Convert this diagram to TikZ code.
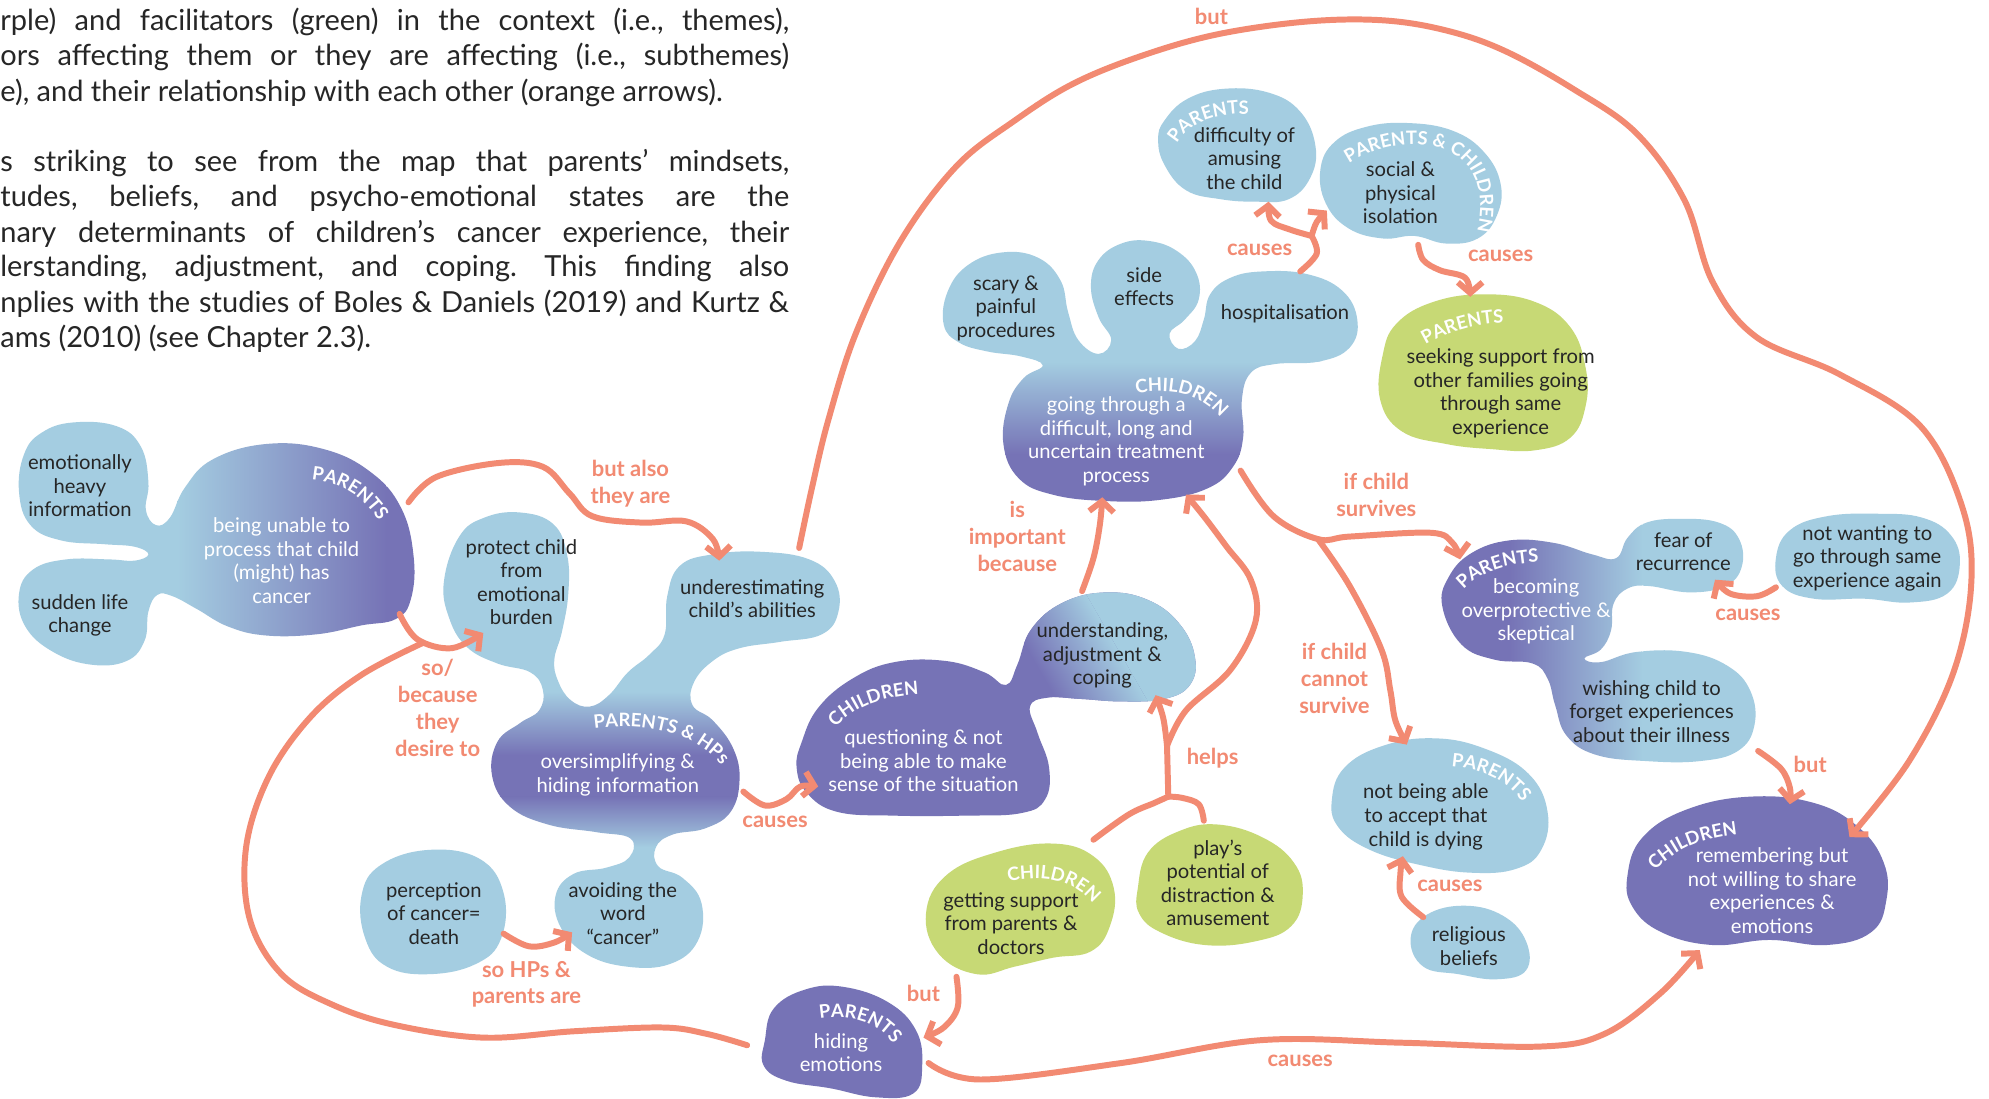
\documentclass[tikz,border=0pt]{standalone}
\usepackage{fontspec}
\setmainfont{Lato}
\usetikzlibrary{arrows.meta,decorations.text}
\definecolor{cblue}{HTML}{A4CDE1}
\definecolor{cpurple}{HTML}{7673B6}
\definecolor{cgreen}{HTML}{C7D975}
\definecolor{corange}{HTML}{F28A72}
\definecolor{ctext}{HTML}{262626}
\frenchspacing
\begin{document}
\begin{tikzpicture}[x=0.025369cm, y=-0.025369cm,
  txt/.style={align=center, inner sep=0pt, text=ctext, font=\fontsize{11.5}{13.4}\selectfont},
  wtxt/.style={txt, text=white},
  lab/.style={align=center, inner sep=0pt, text=corange, font=\bfseries\fontsize{12.5}{15.3}\selectfont},
  para/.style={anchor=base west, inner sep=0pt, text=ctext, font=\fontsize{16.5}{20}\selectfont},
  arr/.style={draw=corange, line width=3.4pt, line cap=round, line join=round, -{Straight Barb[length=6pt, width=14pt]}},
  link/.style={draw=corange, line width=3.4pt, line cap=round, line join=round},
  curved/.style={decorate, decoration={text along path, text align=center, text color=white, text={|\bfseries\fontsize{10.5}{12}\selectfont|#1}}},
]
\useasboundingbox (0,0) rectangle (1568,866);
\fill[white] (0,0) rectangle (1568,866);

% ---------- paragraph ----------
\node[para] (p1) at (0,24) {\makebox[15.78cm][s]{rple) and facilitators (green) in the context (i.e., themes),}};
\node[para] (p2) at (0,52) {\makebox[15.78cm][s]{ors affecting them or they are affecting (i.e., subthemes)}};
\node[para] (p3) at (0,80) {e), and their relationship with each other (orange arrows).};
\node[para] (p4) at (0,135) {\makebox[15.78cm][s]{s striking to see from the map that parents’ mindsets,}};
\node[para] (p5) at (0,163) {\makebox[15.78cm][s]{tudes, beliefs, and psycho-emotional states are the}};
\node[para] (p6) at (0,191) {\makebox[15.78cm][s]{nary determinants of children’s cancer experience, their}};
\node[para] (p7) at (0,218) {\makebox[15.78cm][s]{lerstanding, adjustment, and coping. This finding also}};
\node[para] (p8) at (0,246) {\makebox[15.78cm][s]{nplies with the studies of Boles \& Daniels (2019) and Kurtz \&}};
\node[para] (p9) at (0,274) {ams (2010) (see Chapter 2.3).};

% ---------- blobs ----------
% parents: being unable to process
\begin{scope}
\clip plot[smooth cycle, tension=.7] coordinates {
 (58,333) (92,336) (111,352) (117,380) (115,402) (123,414) (134,408) (146,384) (168,362) (210,350) (255,354) (292,372) (316,400) (326,438) (324,472) (312,488) (285,493) (250,500) (210,501) (180,494) (155,480) (136,470) (124,469) (117,482) (114,505) (100,521) (72,524) (42,514) (20,494) (15,468) (26,449) (52,441) (86,441) (106,442) (117,437) (106,431) (82,429) (48,426) (24,414) (15,388) (19,358) (33,341)};
\fill[cblue] (0,300) rectangle (140,540);
\shade[left color=cblue, right color=cpurple] (140,300) rectangle (305,540);
\fill[cpurple] (305,300) rectangle (340,540);
\end{scope}

% parents & HPs: oversimplifying
\begin{scope}
\clip plot[smooth cycle, tension=.7] coordinates {
 (362,423) (382,408) (410,404) (436,413) (447,437) (448,468) (443,498) (437,520) (440,537) (450,552) (465,557) (480,548) (495,530) (512,516) (524,500) (526,470) (536,446) (562,437) (600,435) (638,441) (658,458) (661,482) (648,500) (615,506) (583,511) (562,521) (547,538) (546,556) (562,568) (578,590) (583,615) (576,640) (556,653) (530,658) (517,668) (519,683) (538,692) (553,712) (550,742) (528,760) (494,762) (462,752) (442,731) (438,706) (452,689) (478,684) (496,676) (497,661) (470,656) (432,650) (402,636) (388,612) (392,585) (410,570) (425,560) (428,544) (418,530) (392,523) (368,510) (354,487) (350,458)};
\fill[cblue] (330,390) rectangle (680,545);
\shade[top color=cblue, bottom color=cpurple] (330,545) rectangle (680,595);
\fill[cpurple] (330,595) rectangle (680,628);
\shade[top color=cpurple, bottom color=cblue] (330,628) rectangle (680,668);
\fill[cblue] (330,668) rectangle (680,780);
\end{scope}

% perception of cancer
\fill[cblue] plot[smooth cycle, tension=.7] coordinates {
 (300,682) (338,670) (378,677) (397,704) (395,740) (375,760) (338,768) (305,762) (288,740) (285,706)};

% children: questioning
\begin{scope}
\clip plot[smooth cycle, tension=.7] coordinates {
 (632,585) (645,558) (672,535) (705,522) (745,521) (776,530) (793,540) (802,524) (813,496) (838,475) (872,467) (905,473) (930,492) (942,518) (938,540) (918,551) (885,553) (852,551) (826,550) (812,557) (818,578) (827,605) (824,630) (805,641) (760,643) (705,643) (660,640) (636,625) (628,605)};
\fill[cpurple] (600,440) rectangle (980,680);
\begin{scope}[transform canvas={rotate around={30:(860,515)}}]
\shade[left color=cpurple, right color=cblue] (818,330) rectangle (880,700);
\fill[cblue] (880,330) rectangle (1050,700);
\end{scope}
\end{scope}

% children: treatment process
\begin{scope}
\clip plot[smooth cycle, tension=.7] coordinates {
 (744,256) (747,230) (763,209) (790,199) (818,203) (836,221) (842,246) (850,268) (866,279) (876,268) (866,250) (860,226) (866,205) (884,192) (906,190) (928,198) (943,215) (945,236) (934,252) (922,263) (929,275) (942,269) (949,252) (954,232) (970,219) (995,214) (1030,216) (1058,229) (1070,252) (1064,274) (1040,285) (1005,287) (986,294) (979,315) (980,345) (972,368) (952,385) (915,394) (872,395) (830,390) (803,377) (791,350) (795,318) (807,298) (822,288) (805,281) (778,277) (756,270)};
\fill[cblue] (730,180) rectangle (1080,285);
\shade[top color=cblue, bottom color=cpurple] (730,285) rectangle (1080,358);
\fill[cpurple] (730,358) rectangle (1080,410);
\end{scope}

% parents: difficulty of amusing
\fill[cblue] plot[smooth cycle, tension=.7] coordinates {
 (918,95) (936,78) (965,70) (1000,73) (1025,88) (1037,115) (1033,140) (1016,157) (990,159) (962,157) (935,150) (918,130) (913,110)};

% parents & children: isolation
\fill[cblue] plot[smooth cycle, tension=.7] coordinates {
 (1041,133) (1052,112) (1077,100) (1110,97) (1145,103) (1170,120) (1183,145) (1180,170) (1165,188) (1140,192) (1115,186) (1090,188) (1063,180) (1045,160)};

% parents: seeking support
\fill[cgreen] plot[smooth cycle, tension=.7] coordinates {
 (1090,280) (1101,255) (1130,238) (1170,232) (1210,238) (1238,258) (1250,290) (1250,320) (1238,345) (1210,355) (1175,354) (1140,350) (1105,340) (1088,315)};

% parents: overprotective
\begin{scope}
\clip plot[smooth cycle, tension=.7] coordinates {
 (1137,478) (1142,455) (1160,436) (1190,426) (1225,428) (1255,437) (1274,440) (1283,424) (1298,412) (1325,409) (1355,412) (1371,425) (1373,447) (1360,462) (1332,467) (1300,462) (1283,464) (1272,476) (1270,497) (1262,512) (1249,519) (1262,522) (1290,514) (1330,514) (1362,525) (1380,545) (1383,572) (1370,592) (1340,600) (1298,600) (1258,595) (1235,580) (1226,556) (1220,535) (1208,523) (1178,520) (1152,508)};
\fill[cpurple] (1120,390) rectangle (1190,620);
\shade[left color=cpurple, right color=cblue] (1190,390) rectangle (1295,620);
\fill[cblue] (1295,390) rectangle (1400,620);
\end{scope}

% not wanting to go through
\fill[cblue] plot[smooth cycle, tension=.7] coordinates {
 (1400,440) (1411,418) (1440,407) (1480,405) (1515,408) (1538,422) (1545,445) (1535,468) (1505,475) (1470,472) (1430,472) (1405,462)};

% parents: not being able to accept
\fill[cblue] plot[smooth cycle, tension=.7] coordinates {
 (1050,630) (1060,605) (1090,588) (1130,582) (1170,590) (1205,610) (1220,640) (1215,670) (1195,685) (1160,688) (1120,682) (1080,670) (1055,652)};

% religious beliefs
\fill[cblue] plot[smooth cycle, tension=.7] coordinates {
 (1112,740) (1125,721) (1155,714) (1185,722) (1203,742) (1203,765) (1180,772) (1150,768) (1122,762)};

% children: remembering
\fill[cpurple] plot[smooth cycle, tension=.7] coordinates {
 (1283,690) (1295,660) (1330,638) (1380,628) (1430,633) (1465,652) (1485,680) (1487,710) (1475,735) (1440,745) (1395,741) (1350,745) (1310,735) (1287,715)};

% children: getting support
\fill[cgreen] plot[smooth cycle, tension=.7] coordinates {
 (730,720) (746,690) (785,672) (830,665) (862,675) (878,700) (875,730) (860,750) (830,755) (800,762) (770,768) (740,752)};

% play's potential
\fill[cgreen] plot[smooth cycle, tension=.7] coordinates {
 (897,700) (905,672) (930,655) (960,650) (995,660) (1020,680) (1027,705) (1018,730) (990,742) (950,745) (915,735) (898,720)};

% parents: hiding emotions
\fill[cpurple] plot[smooth cycle, tension=.7] coordinates {
 (603,820) (610,795) (635,780) (665,778) (700,790) (722,812) (727,840) (720,862) (690,865) (655,858) (620,852) (602,840)};

% ---------- curved group labels ----------
\path[curved={PARENTS}] (238,378) .. controls (268,378) and (290,392) .. (302,418);
\path[curved={PARENTS {\&} HPs}] (458,576) .. controls (508,566) and (555,578) .. (575,612);
\path[curved={CHILDREN}] (652,582) .. controls (668,558) and (695,547) .. (735,547);
\path[curved={CHILDREN}] (886,312) .. controls (925,304) and (950,310) .. (968,337);
\path[curved={PARENTS}] (924,122) .. controls (932,98) and (955,88) .. (994,90);
\path[curved={PARENTS {\&} CHILDREN}] (1052,138) .. controls (1080,110) and (1137,104) .. (1158,132) .. controls (1170,150) and (1169,172) .. (1160,196);
\path[curved={PARENTS}] (1114,278) .. controls (1140,260) and (1165,254) .. (1197,254);
\path[curved={PARENTS}] (1148,472) .. controls (1162,452) and (1185,443) .. (1222,443);
\path[curved={PARENTS}] (1133,604) .. controls (1168,604) and (1192,615) .. (1206,642);
\path[curved={CHILDREN}] (1300,692) .. controls (1318,670) and (1340,660) .. (1377,657);
\path[curved={CHILDREN}] (786,697) .. controls (820,688) and (850,692) .. (867,720);
\path[curved={PARENTS}] (638,805) .. controls (670,797) and (695,805) .. (709,830);

% ---------- blob texts ----------
\node[txt] (heavy) at (63,383) {emotionally\\heavy\\information};
\node[txt] (sudden) at (63,485) {sudden life\\change};
\node[wtxt] (unable) at (222,442) {being unable to\\process that child\\(might) has\\cancer};
\node[txt] (protect) at (411,459) {protect child\\from\\emotional\\burden};
\node[txt] (underest) at (593,472) {underestimating\\child’s abilities};
\node[wtxt] (oversimp) at (487,611) {oversimplifying \&\\hiding information};
\node[txt] (avoid) at (491,720) {avoiding the\\word\\“cancer”};
\node[txt] (percep) at (342,720) {perception\\of cancer=\\death};
\node[wtxt] (question) at (728,600) {questioning \& not\\being able to make\\sense of the situation};
\node[txt] (underst) at (869,517) {understanding,\\adjustment \&\\coping};
\node[wtxt] (treat) at (880,348) {going through a\\difficult, long and\\uncertain treatment\\process};
\node[txt] (scary) at (793,243) {scary \&\\painful\\procedures};
\node[txt] (side) at (902,226) {side\\effects};
\node[txt] (hosp) at (1013,247) {hospitalisation};
\node[txt] (amuse) at (981,125) {difficulty of\\amusing\\the child};
\node[txt] (isol) at (1104,152) {social \&\\physical\\isolation};
\node[txt] (seek) at (1183,310) {seeking support from\\other families going\\through same\\experience};
\node[wtxt] (overprot) at (1211,482) {becoming\\overprotective \&\\skeptical};
\node[txt] (fear) at (1327,435) {fear of\\recurrence};
\node[txt] (notwant) at (1472,440) {not wanting to\\go through same\\experience again};
\node[txt] (wish) at (1302,561) {wishing child to\\forget experiences\\about their illness};
\node[txt] (accept) at (1124,644) {not being able\\to accept that\\child is dying};
\node[txt] (relig) at (1158,746) {religious\\beliefs};
\node[wtxt] (remem) at (1397,702) {remembering but\\not willing to share\\experiences \&\\emotions};
\node[txt] (getsup) at (797,728) {getting support\\from parents \&\\doctors};
\node[txt] (play) at (960,696) {play’s\\potential of\\distraction \&\\amusement};
\node[wtxt] (hide) at (663,830) {hiding\\emotions};

% ---------- connector end points ----------
\coordinate (a1s) at (322,396);  \coordinate (a1e) at (567,442);
\coordinate (a2s) at (315,484);  \coordinate (a2e) at (381,499);
\coordinate (a3s) at (589,824);  \coordinate (a3e) at (333,507);
\coordinate (a4s) at (586,624);  \coordinate (a4e) at (645,620);
\coordinate (a5s) at (397,736);  \coordinate (a5e) at (451,735);
\coordinate (a6s) at (630,432);  \coordinate (a6e) at (1458,660);
\coordinate (a7s) at (853,466);  \coordinate (a7e) at (869,392);
\coordinate (g1) at (862,662);   \coordinate (pl1) at (949,647);
\coordinate (fork) at (921,628); \coordinate (split) at (920,588);
\coordinate (a8e) at (911,548);  \coordinate (a9e) at (935,390);
\coordinate (a10s) at (978,371); \coordinate (branch) at (1039,425);
\coordinate (a10e) at (1151,441); \coordinate (a11e) at (1109,587);
\coordinate (c1s) at (1025,214); \coordinate (cj) at (1034,186);
\coordinate (c1e) at (1000,159); \coordinate (c2e) at (1046,166);
\coordinate (c3s) at (1118,193); \coordinate (c3e) at (1159,234);
\coordinate (c4s) at (1400,463); \coordinate (c4e) at (1352,457);
\coordinate (c5s) at (1386,592); \coordinate (c5e) at (1411,634);
\coordinate (c6s) at (1122,723); \coordinate (c6e) at (1106,675);
\coordinate (c7s) at (754,770);  \coordinate (c7e) at (728,818);
\coordinate (c8s) at (732,838);  \coordinate (c8e) at (1340,749);

% ---------- connectors ----------
\draw[arr] plot[smooth, tension=.6] coordinates {(a1s) (344,376) (393,365) (428,368) (449,389) (467,407) (506,412) (541,411) (562,425) (a1e)};
\draw[arr] plot[smooth, tension=.6] coordinates {(a2s) (329,504) (356,511) (a2e)};
\draw[link] plot[smooth, tension=.6] coordinates {(a3s) (557,815) (522,810) (452,813) (381,818) (311,808) (262,792) (222,768) (197,725) (194,668) (212,612) (245,565) (285,532) (a3e)};
\draw[arr] plot[smooth, tension=.6] coordinates {(a4s) (603,635) (620,630) (631,620) (a4e)};
\draw[arr] plot[smooth, tension=.6] coordinates {(a5s) (417,746) (437,743) (a5e)};
\draw[arr] plot[smooth, tension=.6] coordinates {(a6s) (640,385) (653,331) (675,262) (710,190) (754,131) (800,95) (846,66) (900,44) (960,27) (1030,17) (1090,16) (1140,24) (1186,40) (1240,70) (1290,105) (1328,158) (1350,222) (1385,266) (1450,295) (1514,336) (1547,400) (1554,460) (1540,530) (1505,600) (a6e)};
\draw[arr] plot[smooth, tension=.6] coordinates {(a7s) (862,440) (867,414) (a7e)};
\draw[link] plot[smooth, tension=.6] coordinates {(g1) (890,642) (910,633) (fork)};
\draw[link] plot[smooth, tension=.6] coordinates {(pl1) (945,634) (932,629) (fork)};
\draw[link] (fork) -- (split);
\draw[arr] plot[smooth, tension=.6] coordinates {(split) (917,566) (a8e)};
\draw[arr] plot[smooth, tension=.6] coordinates {(split) (935,560) (970,528) (990,489) (986,457) (967,431) (949,407) (a9e)};
\draw[arr] plot[smooth, tension=.6] coordinates {(a10s) (1004,407) (branch) (1064,423) (1128,420) (1145,428) (a10e)};
\draw[arr] plot[smooth, tension=.6] coordinates {(branch) (1064,462) (1089,512) (1096,544) (1100,568) (a11e)};
\draw[link] plot[smooth, tension=.6] coordinates {(c1s) (1038,200) (cj)};
\draw[arr] plot[smooth, tension=.6] coordinates {(cj) (1017,181) (1002,174) (c1e)};
\draw[arr] plot[smooth, tension=.6] coordinates {(cj) (1038,175) (c2e)};
\draw[arr] plot[smooth, tension=.6] coordinates {(c3s) (1122,205) (1135,213) (1155,219) (c3e)};
\draw[arr] plot[smooth, tension=.6] coordinates {(c4s) (1385,470) (1364,468) (c4e)};
\draw[arr] plot[smooth, tension=.6] coordinates {(c5s) (1404,606) (1411,621) (c5e)};
\draw[arr] plot[smooth, tension=.6] coordinates {(c6s) (1105,707) (1104,688) (c6e)};
\draw[arr] plot[smooth, tension=.6] coordinates {(c7s) (755,794) (744,810) (c7e)};
\draw[arr] plot[smooth, tension=.6] coordinates {(c8s) (773,851) (884,838) (994,820) (1105,822) (1215,825) (1265,815) (1309,783) (c8e)};

% ---------- connector labels ----------
\node[lab] (l1) at (497,381) {but also\\they are};
\node[lab] (l2) at (345,558) {so/\\because\\they\\desire to};
\node[lab] (l3) at (611,648) {causes};
\node[lab] (l4) at (415,776) {so HPs \&\\parents are};
\node[lab] (l5) at (955,13) {but};
\node[lab] (l6) at (802,423) {is\\important\\because};
\node[lab] (l7) at (956,598) {helps};
\node[lab] (l8) at (993,197) {causes};
\node[lab] (l9) at (1183,202) {causes};
\node[lab] (l10) at (1085,390) {if child\\survives};
\node[lab] (l11) at (1052,535) {if child\\cannot\\survive};
\node[lab] (l12) at (1378,485) {causes};
\node[lab] (l13) at (1427,603) {but};
\node[lab] (l14) at (1143,698) {causes};
\node[lab] (l15) at (728,783) {but};
\node[lab] (l16) at (1025,836) {causes};
\end{tikzpicture}
\end{document}
